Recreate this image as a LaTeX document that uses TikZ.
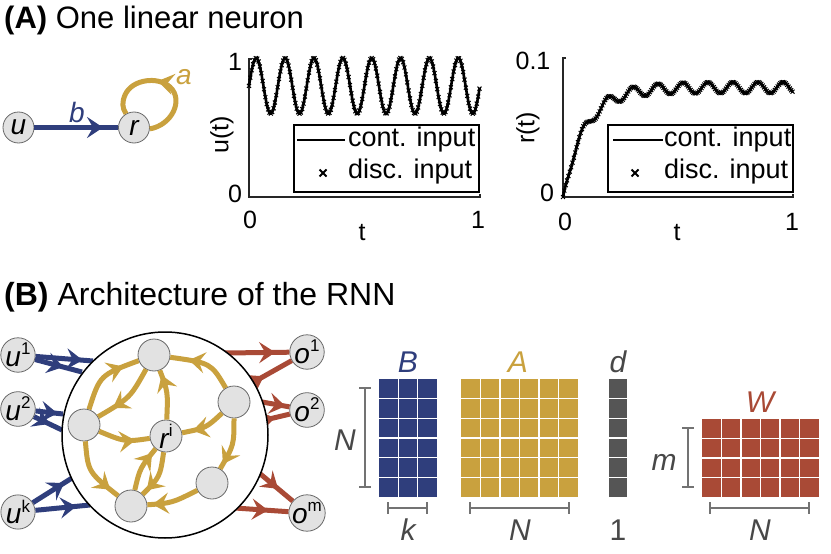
\documentclass[tikz,border=0pt]{standalone}
\usepackage{fontspec}
\setmainfont{Liberation Sans}
\usetikzlibrary{arrows.meta,decorations.markings}
\definecolor{cblue}{RGB}{47,62,124}
\definecolor{cgold}{RGB}{201,161,62}
\definecolor{cred}{RGB}{169,74,54}
\definecolor{cdark}{RGB}{85,85,85}
\definecolor{cbrack}{RGB}{115,115,115}
\definecolor{clab}{RGB}{72,72,72}
\definecolor{nodefill}{RGB}{226,226,226}
\definecolor{nodeline}{RGB}{105,105,105}
\newcommand\mysup[1]{\raisebox{0.42em}{\fontsize{17}{17}\selectfont\upshape #1}}
\begin{document}
\begin{tikzpicture}[x=1pt,y=-1pt,
  neuron/.style={circle, fill=nodefill, draw=nodeline, line width=0.8pt, minimum size=32pt, inner sep=0pt, font=\fontsize{28}{28}\selectfont\itshape},
  conn/.style={line width=5pt},
  arrowat/.style={postaction={decorate}, decoration={markings, mark=at position #1 with {\arrow{Stealth[length=16pt,width=21pt,inset=6pt]}}}},
  ttl/.style={anchor=base west, inner sep=0pt},
  tick/.style={font=\fontsize{25}{25}\selectfont, inner sep=0pt},
  leg/.style={font=\fontsize{27}{27}\selectfont, anchor=west, inner sep=0pt},
  axisline/.style={line width=1.3pt, black!85},
  mlab/.style={font=\fontsize{30}{30}\selectfont\itshape, inner sep=0pt},
  brack/.style={line width=2pt, cbrack},
  gridw/.style={white, line width=1.6pt},
  xmark/.style={line width=1.8pt}
]
\useasboundingbox (0,0) rectangle (831,554);

% ---------- Titles ----------
\node[ttl, font=\fontsize{31}{33}\selectfont] (tA) at (4,28) {\textbf{(A)} One linear neuron};
\node[ttl, font=\fontsize{32}{34}\selectfont] (tB) at (4,305) {\textbf{(B)} Architecture of the RNN};

% ---------- Panel A diagram ----------
\node[neuron, minimum size=31pt] (u) at (18.5,127.5) {u};
\node[neuron, minimum size=31pt] (r) at (134,127.5) {r};
\draw[conn, cblue, arrowat=0.82] (u) -- (r);
\node[font=\fontsize{28}{28}\selectfont\itshape, text=cblue] (lb) at (77,112) {b};
\draw[conn, cgold, arrowat=0.55] (r.-5) .. controls (172,125) and (184,100) .. (170,87)
  .. controls (158,76) and (132,79) .. (125,95) .. controls (122,102) and (122,108) .. (r.120);
\node[font=\fontsize{28}{28}\selectfont\itshape, text=cgold] (la) at (184,77) {a};

% ---------- Plot u(t) ----------
\draw[axisline] (252,59) -- (249,59) -- (249,197) -- (480,197) -- (480,194);
\draw[line width=2.6pt] plot[domain=0:1, samples=400, smooth] ({249+231*\x},{197-139*(0.8+0.2*sin(2880*\x))});
\draw[line width=1pt] plot[only marks, mark=x, mark size=2.8pt, domain=0:1, samples=170] ({249+231*\x},{197-139*(0.8+0.2*sin(2880*\x))});
\node[tick] (uy1) at (235,62) {1};
\node[tick] (uy0) at (235,194) {0};
\node[tick] (ux0) at (250,220) {0};
\node[tick] (ux1) at (478,220) {1};
\node[tick] (uxl) at (362,233) {t};
\node[tick, rotate=90] (uyl) at (222,135) {u(t)};
\draw[line width=1.3pt, fill=white] (294,125) rectangle (479,192);
\draw[line width=2.4pt] (297,140) -- (345,140);
\node[leg] (ul1) at (348,140) {cont. input};
\node (ulx) at (323,173) {\tikz\draw[xmark] (0,0) -- (7,7) (0,7) -- (7,0);};
\node[leg] (ul2) at (348,172) {disc. input};

% ---------- Plot r(t) ----------
\draw[axisline] (566,58) -- (563,58) -- (563,197) -- (793,197) -- (793,194);
\draw[line width=2.6pt] plot[domain=0:1, samples=400, smooth] ({563+230*\x},{197-1390*(0.0787*(1-exp(-\x/0.097))+0.004*(1-exp(-\x/0.03))*sin(360*(\x-0.304)/0.1087+90))});
\draw[line width=1pt] plot[only marks, mark=x, mark size=2.8pt, domain=0:1, samples=170] ({563+230*\x},{197-1390*(0.0787*(1-exp(-\x/0.097))+0.004*(1-exp(-\x/0.03))*sin(360*(\x-0.304)/0.1087+90))});
\node[tick] (ry1) at (533,61) {0.1};
\node[tick] (ry0) at (547,193) {0};
\node[tick] (rx0) at (565,222) {0};
\node[tick] (rx1) at (792,222) {1};
\node[tick] (rxl) at (677,233) {t};
\node[tick, rotate=90] (ryl) at (528,128) {r(t)};
\draw[line width=1.3pt, fill=white] (608,125) rectangle (793,192);
\draw[line width=2.4pt] (613,140) -- (663,140);
\node[leg] (rl1) at (664,140) {cont. input};
\node (rlx) at (635,173) {\tikz\draw[xmark] (0,0) -- (7,7) (0,7) -- (7,0);};
\node[leg] (rl2) at (664,172) {disc. input};

% ---------- Panel B network ----------
\node[neuron] (u1) at (18,355) {u\mysup{1}};
\node[neuron] (u2) at (18,409) {u\mysup{2}};
\node[neuron] (uk) at (18,512) {u\mysup{k}};
\node[neuron] (o1) at (307,352) {o\mysup{1}};
\node[neuron] (o2) at (307,410) {o\mysup{2}};
\node[neuron] (om) at (307,513) {o\mysup{m}};

\coordinate (bu1a) at (93,361);
\coordinate (bu1b) at (82,372);
\coordinate (bu2a) at (63,414);
\coordinate (bu2b) at (62,430);
\coordinate (buka) at (72,478);
\coordinate (bukb) at (90,505);
\coordinate (ro1a) at (225,353);
\coordinate (ro1b) at (252,383);
\coordinate (ro2a) at (262,402);
\coordinate (ro2b) at (265,420);
\coordinate (roma) at (258,472);
\coordinate (romb) at (235,508);

\draw[conn, cblue, arrowat=0.82] (u1) -- (bu1a);
\draw[conn, cblue, arrowat=0.6] (u1) -- (bu1b);
\draw[conn, cblue, arrowat=0.8] (u2) -- (bu2a);
\draw[conn, cblue, arrowat=0.55] (u2) -- (bu2b);
\draw[conn, cblue, arrowat=0.8] (uk) -- (buka);
\draw[conn, cblue, arrowat=0.75] (uk) -- (bukb);
\draw[conn, cred, arrowat=0.78] (ro1a) -- (o1);
\draw[conn, cred, arrowat=0.3] (ro1b) -- (o1);
\draw[conn, cred, arrowat=0.85] (ro2a) -- (o2);
\draw[conn, cred, arrowat=0.4] (ro2b) -- (o2);
\draw[conn, cred, arrowat=0.58] (roma) -- (om);
\draw[conn, cred, arrowat=0.62] (romb) -- (om);

\node[circle, draw=black, fill=white, line width=1.5pt, minimum size=206pt, inner sep=0pt] (net) at (165,435) {};

\node[neuron] (n1) at (154,355) {};
\node[neuron] (n2) at (84,425) {};
\node[neuron] (ri) at (166,436) {r\mysup{i}};
\node[neuron] (n4) at (234,402) {};
\node[neuron] (n5) at (212,483) {};
\node[neuron] (n6) at (131,506) {};

\draw[conn, cgold, arrowat=0.78] (n2) .. controls (100,375) .. (n1);
\draw[conn, cgold, arrowat=0.75] (n1) .. controls (130,398) .. (n2);
\draw[conn, cgold, arrowat=0.72] (n2) .. controls (125,442) .. (ri);
\draw[conn, cgold, arrowat=0.9] (ri) .. controls (168,392) .. (n1);
\draw[conn, cgold, arrowat=0.72] (n4) .. controls (211,363) .. (n1);
\draw[conn, cgold, arrowat=0.76] (n4) .. controls (206,428) .. (ri);
\draw[conn, cgold, arrowat=0.9] (n4) .. controls (234,445) .. (n5);
\draw[conn, cgold, arrowat=0.9] (n5) .. controls (172,503) .. (n6);
\draw[conn, cgold, arrowat=0.85] (n2) .. controls (88,472) .. (n6);
\draw[conn, cgold, arrowat=0.88] (n6) .. controls (140,468) .. (ri);
\draw[conn, cgold, arrowat=0.88] (ri) .. controls (160,477) .. (n6);

% ---------- Matrices ----------
% B
\fill[cblue] (379,379) rectangle (437,497);
\foreach \i in {1,2} \draw[gridw] ({379+\i*58/3},379) -- ({379+\i*58/3},497);
\foreach \j in {1,...,5} \draw[gridw] (379,{379+\j*118/6}) -- (437,{379+\j*118/6});
% A
\fill[cgold] (461,379) rectangle (578,497);
\foreach \i in {1,...,5} \draw[gridw] ({461+\i*117/6},379) -- ({461+\i*117/6},497);
\foreach \j in {1,...,5} \draw[gridw] (461,{379+\j*118/6}) -- (578,{379+\j*118/6});
% d
\fill[cdark] (609,379) rectangle (627,497);
\foreach \j in {1,...,5} \draw[gridw] (609,{379+\j*118/6}) -- (627,{379+\j*118/6});
% W
\fill[cred] (702,419) rectangle (819,497);
\foreach \i in {1,...,5} \draw[gridw] ({702+\i*117/6},419) -- ({702+\i*117/6},497);
\foreach \j in {1,2,3} \draw[gridw] (702,{419+\j*78/4}) -- (819,{419+\j*78/4});

% brackets
\draw[brack] (365,388) -- (365,487) (359,388) -- (371,388) (359,487) -- (371,487);
\draw[brack] (388,508) -- (427,508) (388,502) -- (388,514) (427,502) -- (427,514);
\draw[brack] (470,508) -- (569,508) (470,502) -- (470,514) (569,502) -- (569,514);
\draw[brack] (688,428) -- (688,487) (682,428) -- (694,428) (682,487) -- (694,487);
\draw[brack] (710,508) -- (809,508) (710,502) -- (710,514) (809,502) -- (809,514);

% labels
\node[mlab, text=cblue] (lB) at (408,362) {B};
\node[mlab, text=cgold] (lA) at (518,362) {A};
\node[mlab, text=clab] (ld) at (618,362) {d};
\node[mlab, text=cred] (lW) at (760,402) {W};
\node[mlab, text=clab] (lN1) at (345,440) {N};
\node[mlab, text=clab] (lk) at (408,530) {k};
\node[mlab, text=clab] (lN2) at (520,530) {N};
\node[mlab, text=clab, font=\fontsize{30}{30}\selectfont\upshape] (l1) at (618,530) {1};
\node[mlab, text=clab] (lm) at (664,462) {m};
\node[mlab, text=clab] (lN3) at (760,530) {N};
\end{tikzpicture}
\end{document}
